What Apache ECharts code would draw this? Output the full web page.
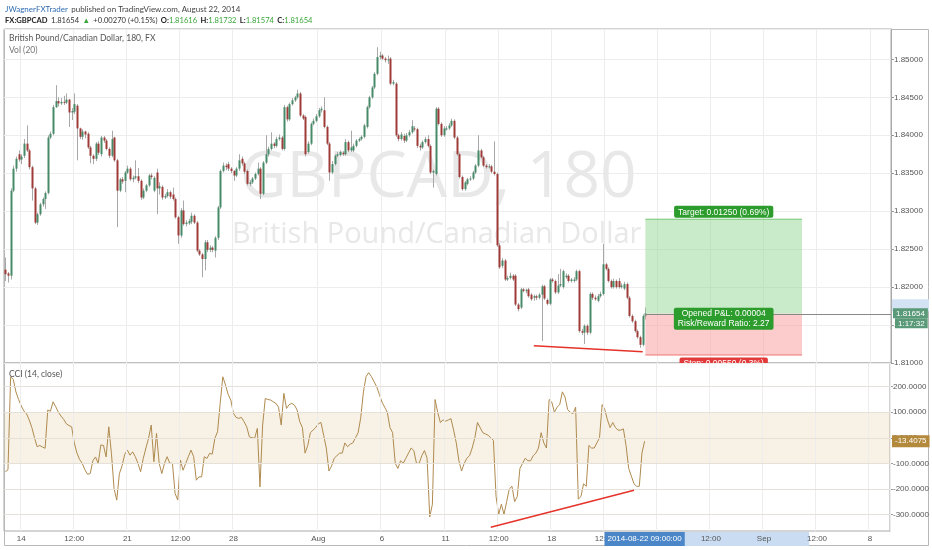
<!DOCTYPE html>
<html><head><meta charset="utf-8">
<script src="https://cdn.jsdelivr.net/npm/echarts@6/dist/echarts.min.js"></script>
<style>html,body{margin:0;padding:0;background:#fff;}#c{width:932px;height:550px;}</style>
</head><body><div id="c"></div>
<script>
// ---------- DATA ----------
const opens = [1.8223,1.8218,1.8215,1.8327,1.8356,1.8375,1.8368,1.8373,1.8389,1.8380,
1.8358,1.8330,1.8285,1.8296,1.8309,1.8316,1.8324,1.8397,1.8402,1.8437,
1.8445,1.8442,1.8444,1.8443,1.8447,1.8430,1.8431,1.8439,1.8409,1.8398,
1.8405,1.8402,1.8384,1.8373,1.8369,1.8389,1.8375,1.8397,1.8393,1.8382,
1.8373,1.8397,1.8367,1.8327,1.8342,1.8340,1.8351,1.8356,1.8342,1.8344,
1.8346,1.8340,1.8318,1.8327,1.8334,1.8347,1.8327,1.8351,1.8330,1.8332,
1.8318,1.8320,1.8325,1.8322,1.8316,1.8292,1.8268,1.8301,1.8283,1.8284,
1.8286,1.8294,1.8285,1.8248,1.8243,1.8237,1.8259,1.8249,1.8252,1.8248,
1.8265,1.8305,1.8353,1.8360,1.8362,1.8356,1.8353,1.8347,1.8356,1.8369,
1.8363,1.8353,1.8336,1.8338,1.8343,1.8349,1.8356,1.8323,1.8364,1.8375,
1.8382,1.8389,1.8386,1.8395,1.8397,1.8382,1.8437,1.8421,1.8441,1.8446,
1.8450,1.8455,1.8426,1.8424,1.8378,1.8389,1.8415,1.8419,1.8425,1.8433,
1.8433,1.8411,1.8389,1.8351,1.8362,1.8373,1.8374,1.8377,1.8375,1.8391,
1.8380,1.8380,1.8386,1.8393,1.8395,1.8398,1.8411,1.8437,1.8450,1.8463,
1.8481,1.8503,1.8505,1.8501,1.8499,1.8501,1.8468,1.8468,1.8400,1.8395,
1.8399,1.8393,1.8400,1.8404,1.8409,1.8408,1.8386,1.8384,1.8391,1.8395,
1.8386,1.8351,1.8349,1.8435,1.8415,1.8400,1.8409,1.8409,1.8413,1.8419,
1.8397,1.8375,1.8345,1.8329,1.8336,1.8342,1.8343,1.8351,1.8360,1.8380,
1.8371,1.8360,1.8358,1.8359,1.8352,1.8349,1.8255,1.8228,1.8235,1.8210,
1.8212,1.8215,1.8215,1.8177,1.8173,1.8197,1.8195,1.8197,1.8190,1.8186,
1.8188,1.8186,1.8190,1.8201,1.8183,1.8178,1.8210,1.8208,1.8193,1.8202,
1.8200,1.8213,1.8215,1.8208,1.8208,1.8210,1.8221,1.8142,1.8140,1.8149,
1.8140,1.8191,1.8186,1.8182,1.8188,1.8191,1.8230,1.8224,1.8208,1.8200,
1.8208,1.8208,1.8200,1.8198,1.8204,1.8186,1.8162,1.8155,1.8142,1.8134,
1.8124,1.81616];
const highs = [1.8239,1.8220,1.8330,1.8360,1.8372,1.8380,1.8375,1.8395,1.8413,1.8382,
1.8360,1.8332,1.8298,1.8311,1.8318,1.8326,1.8400,1.8405,1.8440,1.8466,
1.8450,1.8449,1.8452,1.8455,1.8448,1.8436,1.8455,1.8441,1.8410,1.8408,
1.8406,1.8404,1.8386,1.8375,1.8391,1.8392,1.8399,1.8399,1.8395,1.8384,
1.8406,1.8398,1.8369,1.8344,1.8345,1.8353,1.8360,1.8358,1.8347,1.8367,
1.8357,1.8342,1.8330,1.8336,1.8349,1.8350,1.8346,1.8356,1.8338,1.8334,
1.8323,1.8329,1.8327,1.8331,1.8318,1.8294,1.8304,1.8314,1.8288,1.8290,
1.8298,1.8296,1.8287,1.8250,1.8245,1.8262,1.8262,1.8255,1.8254,1.8267,
1.8307,1.8355,1.8364,1.8363,1.8365,1.8358,1.8354,1.8358,1.8375,1.8372,
1.8365,1.8355,1.8341,1.8345,1.8351,1.8364,1.8358,1.8366,1.8400,1.8385,
1.8404,1.8391,1.8398,1.8401,1.8399,1.8440,1.8439,1.8443,1.8449,1.8452,
1.8460,1.8457,1.8428,1.8426,1.8392,1.8417,1.8422,1.8428,1.8436,1.8438,
1.8450,1.8413,1.8391,1.8366,1.8375,1.8378,1.8380,1.8379,1.8395,1.8393,
1.8406,1.8389,1.8395,1.8397,1.8400,1.8415,1.8439,1.8452,1.8465,1.8483,
1.8516,1.8510,1.8507,1.8503,1.8505,1.8503,1.8473,1.8470,1.8402,1.8404,
1.8402,1.8403,1.8407,1.8420,1.8412,1.8410,1.8389,1.8393,1.8398,1.8400,
1.8388,1.8355,1.8437,1.8437,1.8417,1.8412,1.8412,1.8416,1.8422,1.8421,
1.8399,1.8377,1.8347,1.8340,1.8344,1.8346,1.8353,1.8362,1.8400,1.8382,
1.8373,1.8362,1.8362,1.8361,1.8392,1.8351,1.8258,1.8238,1.8237,1.8215,
1.8219,1.8217,1.8217,1.8179,1.8199,1.8199,1.8198,1.8199,1.8192,1.8190,
1.8190,1.8192,1.8203,1.8203,1.8185,1.8212,1.8212,1.8210,1.8217,1.8224,
1.8223,1.8218,1.8217,1.8212,1.8213,1.8223,1.8223,1.8145,1.8151,1.8151,
1.8193,1.8193,1.8189,1.8191,1.8194,1.8257,1.8232,1.8226,1.8210,1.8211,
1.8210,1.8212,1.8205,1.8207,1.8206,1.8188,1.8164,1.8157,1.8144,1.8136,
1.8164,1.81732];
const lows = [1.8208,1.8206,1.8210,1.8325,1.8352,1.8365,1.8362,1.8370,1.8378,1.8355,
1.8314,1.8283,1.8282,1.8294,1.8306,1.8303,1.8322,1.8395,1.8400,1.8436,
1.8438,1.8440,1.8440,1.8441,1.8411,1.8420,1.8428,1.8367,1.8395,1.8394,
1.8396,1.8382,1.8363,1.8362,1.8366,1.8374,1.8372,1.8390,1.8380,1.8370,
1.8371,1.8365,1.8279,1.8325,1.8336,1.8325,1.8349,1.8340,1.8338,1.8342,
1.8337,1.8315,1.8316,1.8325,1.8332,1.8342,1.8325,1.8296,1.8322,1.8315,
1.8316,1.8318,1.8316,1.8314,1.8290,1.8257,1.8265,1.8281,1.8280,1.8282,
1.8283,1.8283,1.8246,1.8241,1.8213,1.8222,1.8246,1.8246,1.8246,1.8239,
1.8262,1.8303,1.8351,1.8354,1.8353,1.8350,1.8340,1.8345,1.8353,1.8360,
1.8349,1.8334,1.8333,1.8336,1.8341,1.8347,1.8316,1.8321,1.8362,1.8372,
1.8380,1.8383,1.8384,1.8393,1.8380,1.8380,1.8418,1.8419,1.8439,1.8444,
1.8448,1.8424,1.8420,1.8372,1.8376,1.8387,1.8413,1.8417,1.8423,1.8430,
1.8409,1.8387,1.8340,1.8349,1.8360,1.8371,1.8372,1.8373,1.8373,1.8378,
1.8378,1.8378,1.8384,1.8391,1.8393,1.8396,1.8409,1.8435,1.8448,1.8461,
1.8479,1.8500,1.8499,1.8496,1.8494,1.8466,1.8466,1.8398,1.8392,1.8393,
1.8390,1.8391,1.8398,1.8402,1.8405,1.8383,1.8380,1.8382,1.8389,1.8384,
1.8349,1.8331,1.8347,1.8413,1.8398,1.8398,1.8406,1.8407,1.8411,1.8395,
1.8373,1.8343,1.8327,1.8327,1.8334,1.8340,1.8341,1.8349,1.8358,1.8369,
1.8358,1.8356,1.8356,1.8350,1.8347,1.8253,1.8224,1.8225,1.8208,1.8208,
1.8210,1.8208,1.8175,1.8168,1.8171,1.8193,1.8192,1.8186,1.8182,1.8182,
1.8183,1.8184,1.8129,1.8183,1.8176,1.8176,1.8206,1.8191,1.8191,1.8200,
1.8198,1.8211,1.8206,1.8206,1.8206,1.8208,1.8140,1.8137,1.8125,1.8137,
1.8138,1.8183,1.8182,1.8180,1.8186,1.8189,1.8222,1.8206,1.8198,1.8198,
1.8198,1.8198,1.8198,1.8196,1.8184,1.8160,1.8153,1.8140,1.8132,1.8120,
1.8122,1.81574];
const closes = [1.8217,1.8215,1.8327,1.8356,1.8369,1.8368,1.8372,1.8389,1.8380,1.8358,
1.8330,1.8285,1.8296,1.8309,1.8316,1.8324,1.8397,1.8402,1.8437,1.8445,
1.8442,1.8444,1.8443,1.8447,1.8430,1.8432,1.8441,1.8409,1.8398,1.8405,
1.8401,1.8384,1.8373,1.8369,1.8389,1.8377,1.8397,1.8393,1.8382,1.8373,
1.8395,1.8367,1.8327,1.8342,1.8339,1.8351,1.8356,1.8342,1.8344,1.8346,
1.8340,1.8318,1.8327,1.8334,1.8347,1.8345,1.8344,1.8330,1.8333,1.8318,
1.8320,1.8325,1.8319,1.8316,1.8292,1.8268,1.8301,1.8283,1.8285,1.8287,
1.8294,1.8285,1.8248,1.8243,1.8237,1.8259,1.8249,1.8252,1.8249,1.8265,
1.8305,1.8353,1.8360,1.8358,1.8356,1.8353,1.8347,1.8356,1.8367,1.8363,
1.8352,1.8336,1.8338,1.8343,1.8349,1.8356,1.8323,1.8364,1.8375,1.8382,
1.8389,1.8386,1.8395,1.8397,1.8382,1.8437,1.8421,1.8441,1.8446,1.8450,
1.8455,1.8426,1.8422,1.8375,1.8389,1.8415,1.8419,1.8425,1.8433,1.8435,
1.8411,1.8389,1.8351,1.8362,1.8373,1.8375,1.8378,1.8375,1.8391,1.8380,
1.8384,1.8386,1.8393,1.8395,1.8398,1.8413,1.8437,1.8450,1.8463,1.8481,
1.8503,1.8505,1.8501,1.8499,1.8500,1.8468,1.8470,1.8400,1.8395,1.8401,
1.8393,1.8400,1.8404,1.8412,1.8408,1.8386,1.8384,1.8391,1.8395,1.8386,
1.8351,1.8353,1.8435,1.8415,1.8400,1.8409,1.8409,1.8413,1.8419,1.8397,
1.8375,1.8345,1.8329,1.8338,1.8342,1.8343,1.8351,1.8360,1.8380,1.8371,
1.8360,1.8358,1.8359,1.8352,1.8349,1.8255,1.8226,1.8235,1.8210,1.8212,
1.8215,1.8210,1.8177,1.8171,1.8197,1.8195,1.8196,1.8188,1.8184,1.8188,
1.8186,1.8190,1.8201,1.8185,1.8178,1.8210,1.8208,1.8193,1.8202,1.8204,
1.8221,1.8215,1.8208,1.8210,1.8210,1.8221,1.8142,1.8140,1.8149,1.8140,
1.8191,1.8186,1.8184,1.8188,1.8191,1.8230,1.8224,1.8208,1.8200,1.8208,
1.8200,1.8200,1.8202,1.8204,1.8186,1.8162,1.8155,1.8142,1.8134,1.8124,
1.8162,1.81654];
const cci = [-133,-125,239,228,180,150,125,105,94,70,
40,0,-35,-30,-36,-41,109,104,141,122,
100,85,72,55,48,43,-20,-60,-85,-100,
-125,-143,-140,-90,-75,-100,-28,-30,-75,43,
-61,-200,-244,-140,-110,-65,-48,-68,-55,-74,
-100,-133,-81,-40,-2,50,-94,17,-100,-140,
-100,-74,-100,-100,-218,-244,-87,-127,-100,-74,
-48,-74,-166,-153,-153,-74,-81,-61,-64,-2,
24,135,239,207,170,148,96,80,76,80,
63,43,4,0,-2,37,-192,50,154,150,
148,141,135,120,50,174,115,130,135,128,
109,63,40,-60,-30,20,30,40,55,60,
10,-40,-130,-110,-80,-70,-60,-60,-20,-35,
-25,-20,0,20,80,180,240,255,240,220,
200,170,140,120,100,40,20,-100,-120,-90,
-100,-80,-60,-40,-50,-100,-100,-70,-50,-80,
-310,-260,150,100,60,70,65,70,75,30,
-20,-90,-130,-100,-80,-70,-40,0,60,40,
20,15,10,0,-10,-230,-300,-260,-300,-250,
-200,-190,-250,-230,-120,-100,-80,-90,-90,-70,
-60,-40,20,-20,-40,150,140,100,120,130,
180,160,110,100,95,120,-240,-230,-180,-190,
-30,-40,-40,-20,0,130,110,70,40,60,
40,30,30,35,-30,-120,-150,-180,-190,-190,
-60,-13.4075];
const priceTicks = [1.81,1.815,1.82,1.825,1.83,1.835,1.84,1.845,1.85];
const cciTicks = [200,100,0,-100,-200,-300];
const timeTicks = [['2014-07-14 00:00','14'],['2014-07-16 12:00','12:00'],['2014-07-21 00:00','21'],['2014-07-23 12:00','12:00'],
['2014-07-28 00:00','28'],['2014-08-01 00:00','Aug'],['2014-08-06 00:00','6'],['2014-08-11 00:00','11'],['2014-08-13 12:00','12:00'],
['2014-08-18 00:00','18'],['2014-08-20 12:00','12:00'],['2014-08-25 00:00','25'],['2014-08-27 12:00','12:00'],['2014-09-01 00:00','Sep'],
['2014-09-03 12:00','12:00'],['2014-09-08 00:00','8']];
const position = {from:'2014-08-22 09:00', to:'2014-09-02 18:00', entry:1.8165, target:1.8290, stop:1.8110};
const priceTrend = [['2014-08-15 03:00',1.81227],['2014-08-22 06:00',1.81148]];
const cciTrend = [['2014-08-13 03:00',-350],['2014-08-21 21:00',-205]];
const slotCount = 334;

// ---------- BUILD ----------
function pad(n){return (n<10?'0':'')+n;}
function buildSlots(start,count){const out=[];let t=start;while(out.length<count){const d=new Date(t);const wd=d.getUTCDay();
 if(wd!==0&&wd!==6)out.push(d.getUTCFullYear()+'-'+pad(d.getUTCMonth()+1)+'-'+pad(d.getUTCDate())+' '+pad(d.getUTCHours())+':'+pad(d.getUTCMinutes()));
 t+=3*3600*1000;}return out;}
const slots = buildSlots(Date.UTC(2014,6,11,6), slotCount);
const tickMap = {}; timeTicks.forEach(t=>tickMap[t[0]]=t[1]);
const UP='#468a69', DN='#9e3b36', WICK='#a8a8a8';
const FONT='"Liberation Sans", Arial, sans-serif';
const candleData = closes.map((c,i)=>[i,opens[i],c,lows[i],highs[i]]);
const last = closes.length-1;
const iFrom = slots.indexOf(position.from), iTo = slots.indexOf(position.to);

const chart = echarts.init(document.getElementById('c'));
const xCommon = {type:'category', data:slots, boundaryGap:true,
  axisLine:{show:false}, axisTick:{show:false},
  splitLine:{show:true, interval:(i,v)=>tickMap[v]!==undefined, lineStyle:{color:'#ededed',width:1}}};

chart.setOption({
  animation:false, backgroundColor:'#fff',
  grid:[{left:4,right:41,top:29,height:334,show:true,borderColor:'#a9a9a9',borderWidth:1,backgroundColor:'transparent'},
        {left:4,right:41,top:363,height:168,show:true,borderColor:'#a9a9a9',borderWidth:1,backgroundColor:'transparent'}],
  xAxis:[Object.assign({gridIndex:0, axisLabel:{show:false}}, xCommon),
         Object.assign({gridIndex:1, z:5, axisLabel:{show:true, interval:(i,v)=>tickMap[v]!==undefined, formatter:v=>tickMap[v]||'',
           fontSize:8, color:'#555', fontFamily:FONT, margin:4}}, xCommon)],
  yAxis:[{gridIndex:0, type:'value', position:'right', min:1.81, max:1.854, interval:0.005, scale:true,
          axisLine:{show:true,lineStyle:{color:'#a9a9a9'}}, axisTick:{show:true,length:3,lineStyle:{color:'#999'}},
          axisLabel:{fontSize:8,color:'#555',fontFamily:FONT,margin:3,showMaxLabel:false,formatter:v=>v.toFixed(5)},
          splitLine:{show:true,lineStyle:{color:'#ededed'}}},
         {gridIndex:1, type:'value', position:'right', min:-365, max:293,
          axisLine:{show:true,lineStyle:{color:'#a9a9a9'}}, axisTick:{show:true,length:3,customValues:cciTicks,lineStyle:{color:'#999'}},
          axisLabel:{fontSize:8,color:'#555',fontFamily:FONT,margin:3,customValues:cciTicks,formatter:v=>Number(v).toFixed(4)},
          splitLine:{show:false}}],
  graphic:[
    {type:'rect', shape:{x:4.5,y:29.5,width:924,height:516}, style:{fill:'none',stroke:'#b8b8b8',lineWidth:1}, z:0},
    {type:'text', left:240, top:147, z:1, style:{text:'GBPCAD, 180', fontSize:64, fontFamily:'"Open Sans"', fill:'#e8e8e8'}},
    {type:'text', left:232, top:220, z:1, style:{text:'British Pound/Canadian Dollar', fontSize:29, fontFamily:'"Open Sans"', fill:'#e8e8e8'}},
    {type:'text', left:5, top:3, z:10, style:{text:'{a|JWagnerFXTrader} {b|published on TradingView.com, August 22, 2014}',
      rich:{a:{fill:'#2f6cb3',fontSize:8,fontFamily:'Lato'},b:{fill:'#444',fontSize:8,fontFamily:'Lato'}}}},
    {type:'text', left:5, top:15, z:10, style:{text:'{k|FX:GBPCAD} {v|1.81654} {g|▲} {v|+0.00270 (+0.15%)} {k|O:}{g|1.81616} {k|H:}{g|1.81732} {k|L:}{g|1.81574} {k|C:}{g|1.81654}',
      rich:{k:{fill:'#222',fontSize:7.6,fontWeight:'bold',fontFamily:'Lato'},v:{fill:'#333',fontSize:7.6,fontFamily:'Lato'},g:{fill:'#3aa53a',fontSize:7.6,fontFamily:'Lato'}}}},
    {type:'text', left:9, top:34, z:10, style:{text:'British Pound/Canadian Dollar, 180, FX', fill:'#555', fontSize:8.5, fontFamily:'Lato'}},
    {type:'text', left:9, top:46, z:10, style:{text:'Vol (20)', fill:'#777', fontSize:8.5, fontFamily:'Lato'}},
    {type:'text', left:9, top:370, z:10, style:{text:'CCI (14, close)', fill:'#555', fontSize:8.5, fontFamily:'Lato'}}
  ],
  series:[
    {type:'custom', name:'candles', xAxisIndex:0, yAxisIndex:0, data:candleData, encode:{x:0,y:[1,2,3,4]}, clip:true, z:3,
     renderItem:(p,api)=>{const i=api.value(0),o=api.value(1),c=api.value(2),l=api.value(3),h=api.value(4);
       const po=api.coord([i,o]),pc=api.coord([i,c]),ph=api.coord([i,h]),pl=api.coord([i,l]);
       const x=Math.round(po[0]);const top=Math.min(po[1],pc[1]);const hg=Math.max(1,Math.abs(po[1]-pc[1]));
       return {type:'group',children:[
        {type:'line',shape:{x1:x+0.5,y1:ph[1],x2:x+0.5,y2:pl[1]},style:{stroke:WICK,lineWidth:1}},
        {type:'rect',shape:{x:x-0.5,y:top,width:2,height:hg},style:{fill:c>=o?UP:DN}}]};}},
    {type:'custom', name:'position', xAxisIndex:0, yAxisIndex:0, clip:true, z:4,
     data:[[iFrom,iTo,position.entry,position.target,position.stop]], encode:{x:[0,1],y:[2,3,4]},
     renderItem:(p,api)=>{const a=api.coord([api.value(0),api.value(2)]),b=api.coord([api.value(1),api.value(3)]),s=api.coord([api.value(0),api.value(4)]);
       const x0=a[0],x1=b[0],yE=a[1],yT=b[1],yS=s[1],mid=(x0+x1)/2,right=p.coordSys.x+p.coordSys.width;
       const ft={fontSize:8.5,fontFamily:FONT,fill:'#fff',align:'center',borderRadius:2};
       return {type:'group',children:[
        {type:'rect',shape:{x:x0,y:yT,width:x1-x0,height:yE-yT},style:{fill:'rgba(150,215,150,0.5)'}},
        {type:'rect',shape:{x:x0,y:yE,width:x1-x0,height:yS-yE},style:{fill:'rgba(250,160,160,0.55)'}},
        {type:'line',shape:{x1:x0,y1:yT+0.5,x2:x1,y2:yT+0.5},style:{stroke:'#7dc97d',lineWidth:1}},
        {type:'line',shape:{x1:x0,y1:yS-0.5,x2:x1,y2:yS-0.5},style:{stroke:'#f08080',lineWidth:1}},
        {type:'line',shape:{x1:x0,y1:Math.round(yE)+0.5,x2:right,y2:Math.round(yE)+0.5},style:{stroke:'#888',lineWidth:1}},
        {type:'text',x:mid,y:yT-1,style:Object.assign({},ft,{text:'Target: 0.01250 (0.69%)',verticalAlign:'bottom',backgroundColor:'#2c9c2c',padding:[2,4,1,4]})},
        {type:'text',x:mid,y:yE+5,style:Object.assign({},ft,{text:'Opened P&L: 0.00004\nRisk/Reward Ratio: 2.27',lineHeight:10,verticalAlign:'middle',backgroundColor:'#2c9c2c',padding:[1,4]})},
        {type:'text',x:mid,y:yS+2,style:Object.assign({},ft,{text:'Stop: 0.00550 (0.3%)',verticalAlign:'top',backgroundColor:'#e23a3a',padding:[2,4]})}
       ]};}},
    {type:'line', name:'priceTrend', xAxisIndex:0, yAxisIndex:0, z:5, symbol:'none', silent:true,
     data:priceTrend.map(t=>[slots.indexOf(t[0]),t[1]]), lineStyle:{color:'#e5332a',width:1.5}},
    {type:'custom', name:'priceBadges', xAxisIndex:0, yAxisIndex:0, clip:false, z:6, data:[[last,closes[last]]],
     renderItem:(p,api)=>{const pt=api.coord([api.value(0),api.value(1)]);const x=p.coordSys.x+p.coordSys.width+2;
       return {type:'group',children:[
        {type:'rect',shape:{x:x-1,y:pt[1]-14,width:37,height:12},style:{fill:'#d3e3f3'}},
        {type:'text',x:x,y:pt[1],style:{text:api.value(1).toFixed(5),fontSize:8,fontFamily:FONT,fill:'#fff',verticalAlign:'middle',backgroundColor:'#5a9a78',padding:[1,3]}},
        {type:'text',x:x+2,y:pt[1]+10,style:{text:'1:17:32',fontSize:8,fontFamily:FONT,fill:'#fff',verticalAlign:'middle',backgroundColor:'#5a9a78',padding:[1,3]}}]};}},
    {type:'line', name:'cciGrid', xAxisIndex:1, yAxisIndex:1, data:[], z:1, silent:true,
     markArea:{silent:true,itemStyle:{color:'rgba(225,205,165,0.28)'},data:[[{yAxis:100},{yAxis:-100}]]},
     markLine:{silent:true,symbol:'none',label:{show:false},lineStyle:{color:'#e6e1d8',type:'solid',width:1},data:cciTicks.map(v=>({yAxis:v}))}},
    {type:'line', name:'CCI', xAxisIndex:1, yAxisIndex:1, data:cci, symbol:'none', z:3,
     lineStyle:{color:'#b08b4f',width:1}},
    {type:'line', name:'cciTrend', xAxisIndex:1, yAxisIndex:1, z:5, symbol:'none', silent:true,
     data:cciTrend.map(t=>[slots.indexOf(t[0]),t[1]]), lineStyle:{color:'#e5332a',width:1.5}},
    {type:'custom', name:'axisBand', xAxisIndex:1, yAxisIndex:1, clip:false, z:0, zlevel:0, data:[[last,iTo]],
     renderItem:(p,api)=>{const pa=api.coord([api.value(0),0]);const pe=api.coord([api.value(1),0]);
       const cs=p.coordSys;const yb=cs.y+cs.height+1;
       return {type:'rect',shape:{x:pa[0],y:yb,width:pe[0]-pa[0]+8,height:14},style:{fill:'#c9dcf1'}};}},
    {type:'custom', name:'axisBadges', xAxisIndex:1, yAxisIndex:1, clip:false, z:8, data:[[last,cci[last]]],
     renderItem:(p,api)=>{const pt=api.coord([api.value(0),api.value(1)]);
       const cs=p.coordSys;const xr=cs.x+cs.width+2;const yb=cs.y+cs.height+1;
       return {type:'group',children:[
        {type:'text',x:xr,y:pt[1],style:{text:api.value(1).toFixed(4),fontSize:8,fontFamily:FONT,fill:'#fff',verticalAlign:'middle',backgroundColor:'#b3893b',padding:[2,3]}},
        {type:'text',x:pt[0],y:yb+7,style:{text:slots[last]+':00',fontSize:8,fontFamily:FONT,fill:'#fff',align:'center',verticalAlign:'middle',backgroundColor:'#4a86c8',padding:[3,3]}}]};}}
  ]
});
</script></body></html>
